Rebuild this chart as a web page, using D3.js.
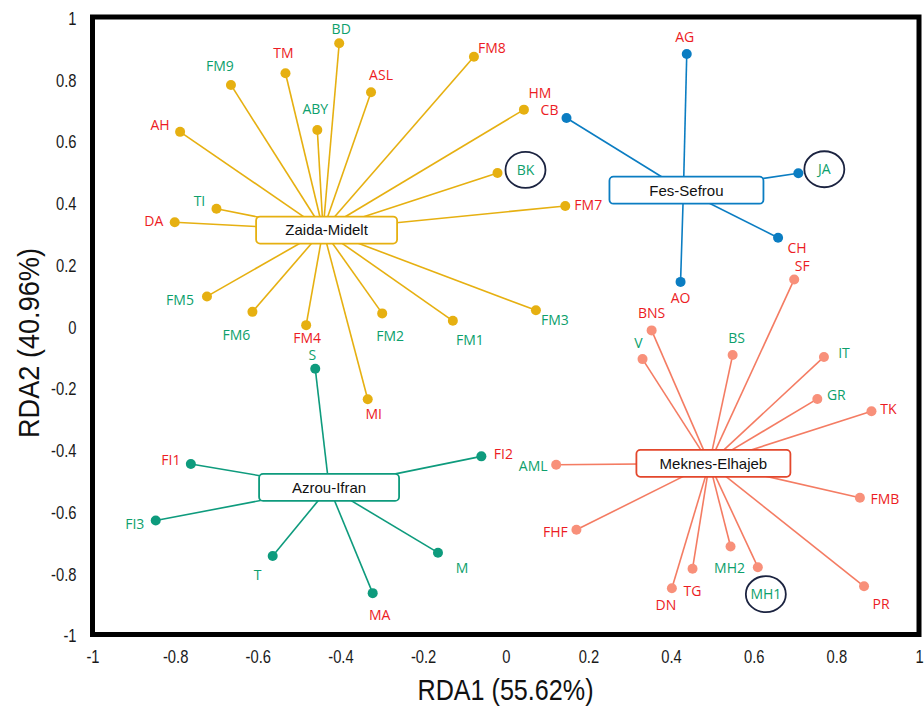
<!DOCTYPE html>
<html><head><meta charset="utf-8">
<script src="https://cdn.jsdelivr.net/npm/d3@7"></script>
<style>body{margin:0;background:#fff}</style>
</head><body><svg id="chart" width="924" height="707"></svg>
<script>
// ---------- data ----------
const groupNames = ["Zaida-Midelt", "Fes-Sefrou", "Azrou-Ifran", "Meknes-Elhajeb"];
const groupX = [-0.442, 0.430, -0.4275, 0.4928];
const groupY = [0.310, 0.439, -0.5235, -0.4457];

const siteNames = ["BD","FM8","ASL","HM","ABY","BK","FM7","FM3","FM9","TM","AH","TI","DA","FM5","FM6","FM4","FM2","FM1","MI",
  "AG","CB","JA","CH","AO",
  "S","FI1","FI3","T","FI2","M","MA",
  "AML","FHF","SF","BNS","V","BS","IT","GR","TK","FMB","PR","MH1","MH2","TG","DN"];
const siteGroup = [0,0,0,0,0,0,0,0,0,0,0,0,0,0,0,0,0,0,0,
  1,1,1,1,1,
  2,2,2,2,2,2,2,
  3,3,3,3,3,3,3,3,3,3,3,3,3,3,3];
const siteRDA1 = [-0.403,-0.077,-0.326,0.044,-0.456,-0.020,0.144,0.073,-0.665,-0.533,-0.788,-0.700,-0.801,-0.723,-0.613,-0.483,-0.299,-0.128,-0.334,
  0.438,0.147,0.708,0.659,0.423,
  -0.461,-0.762,-0.847,-0.564,-0.059,-0.164,-0.322,
  0.122,0.171,0.698,0.353,0.331,0.549,0.770,0.754,0.885,0.857,0.867,0.610,0.544,0.452,0.402];
const siteRDA2 = [0.915,0.871,0.756,0.700,0.634,0.495,0.388,0.050,0.780,0.818,0.628,0.379,0.335,0.095,0.045,0.002,0.040,0.016,-0.238,
  0.880,0.673,0.494,0.285,0.142,
  -0.139,-0.448,-0.631,-0.746,-0.423,-0.735,-0.866,
  -0.450,-0.661,0.150,-0.015,-0.108,-0.095,-0.101,-0.237,-0.277,-0.557,-0.844,-0.782,-0.715,-0.787,-0.850];
// label class: "R" (red label) or "G" (green label)
const siteClass = ["G","R","R","R","G","G","R","G","G","R","R","G","R","G","G","R","G","G","R",
  "R","R","G","R","R",
  "G","R","G","G","R","G","R",
  "G","R","R","R","G","G","G","G","R","R","R","G","G","R","R"];
const circledSites = ["BK","JA","MH1"];

const xTickValues = [-1,-0.8,-0.6,-0.4,-0.2,0,0.2,0.4,0.6,0.8,1];
const yTickValues = [-1,-0.8,-0.6,-0.4,-0.2,0,0.2,0.4,0.6,0.8,1];
const xTitle = "RDA1 (55.62%)";
const yTitle = "RDA2 (40.96%)";

// ---------- layout / style ----------
const frame = {x0: 92.5, x1: 919, y0: 17, y1: 634.5};
const lineColors = ["#e6b011", "#0b7dc2", "#0e9b7d", "#f47c63"];
const dotColors  = ["#e6b011", "#0b7dc2", "#0e9b7d", "#f8907a"];
const boxStroke  = ["#e6b011", "#0b7dc2", "#0e9b7d", "#e3472c"];
const boxWidth   = [141, 154, 140, 154];
const boxShift   = [3.5, 3, 0, 4];
const labelColor = {R: "#ec1c24", G: "#0d9f6c"};
const labelOffset = {
  BD:[2,-14], FM8:[18,-9], ASL:[10,-17], HM:[16,-17], ABY:[-2,-21], BK:[28,-3], FM7:[23,-1], FM3:[19,10],
  FM9:[-11,-19], TM:[-2,-20], AH:[-20,-7], TI:[-17,-8], DA:[-21,-1], FM5:[-27,4], FM6:[-16,23], FM4:[1,12.5],
  FM2:[8,23], FM1:[17,19], MI:[6,15],
  AG:[-2,-17], CB:[-17,-8], JA:[26,-4], CH:[19,10], AO:[0,16],
  S:[-3,-14], FI1:[-20,-4], FI3:[-21,3], T:[-15,19], FI2:[22,-2], M:[24,15], MA:[7,22],
  AML:[-23,1], FHF:[-21,2], SF:[8,-13], BNS:[0,-17], V:[-4,-16], BS:[4,-17], IT:[20,-4], GR:[19,-4],
  TK:[17,-2], FMB:[25,1], PR:[17,18], MH1:[8,27], MH2:[-1,21], TG:[0,22], DN:[-6,17]
};

const svg = d3.select("#chart");
const x = d3.scaleLinear().domain([-1, 1]).range([frame.x0, frame.x1]);
const y = d3.scaleLinear().domain([-1, 1]).range([frame.y1, frame.y0]);

const sites = siteNames.map((n, i) => ({name: n, g: siteGroup[i], x: siteRDA1[i], y: siteRDA2[i], c: siteClass[i]}));
const groups = groupNames.map((n, i) => ({name: n, i, x: groupX[i], y: groupY[i]}));

// axes
const fmt = d => String(+d.toFixed(1));
const gx = svg.append("g").attr("transform", `translate(0,${frame.y1})`)
  .call(d3.axisBottom(x).tickValues(xTickValues).tickSize(0).tickFormat(fmt));
gx.select(".domain").remove();
gx.selectAll("text").attr("y", 28.5).attr("dy", null)
  .attr("transform", "scale(0.82,1)")
  .style("font-family", "'Liberation Sans', Arial, sans-serif").style("font-size", "18px").attr("fill", "#1a1a1a");

const gy = svg.append("g").attr("transform", `translate(${frame.x0},0)`)
  .call(d3.axisLeft(y).tickValues(yTickValues).tickSize(0).tickFormat(fmt));
gy.select(".domain").remove();
gy.selectAll("text").attr("x", -19.5).attr("y", 1.5)
  .attr("transform", "scale(0.82,1)")
  .style("font-family", "'Liberation Sans', Arial, sans-serif").style("font-size", "18px").attr("fill", "#1a1a1a");

// titles
svg.append("text").attr("x", 505.5).attr("y", 700).attr("text-anchor", "middle")
  .attr("textLength", 176).attr("lengthAdjust", "spacingAndGlyphs")
  .style("font-family", "'Liberation Sans', Arial, sans-serif").style("font-size", "30px").attr("fill", "#111")
  .text(xTitle);
svg.append("text").attr("transform", "translate(38.5,343) rotate(-90)").attr("text-anchor", "middle")
  .attr("textLength", 190).attr("lengthAdjust", "spacingAndGlyphs")
  .style("font-family", "'Liberation Sans', Arial, sans-serif").style("font-size", "30px").attr("fill", "#111")
  .text(yTitle);

// spokes
svg.append("g").selectAll("line").data(sites).join("line")
  .attr("x1", d => x(groups[d.g].x)).attr("y1", d => y(groups[d.g].y))
  .attr("x2", d => x(d.x)).attr("y2", d => y(d.y))
  .attr("stroke", d => lineColors[d.g]).attr("stroke-width", 1.6);

// points
svg.append("g").selectAll("circle").data(sites).join("circle")
  .attr("cx", d => x(d.x)).attr("cy", d => y(d.y)).attr("r", 5)
  .attr("fill", d => dotColors[d.g]);

// group boxes
const gb = svg.append("g").selectAll("g").data(groups).join("g")
  .attr("transform", d => `translate(${x(d.x) + boxShift[d.i]},${y(d.y)})`);
gb.append("rect")
  .attr("x", d => -boxWidth[d.i] / 2).attr("y", -13.5)
  .attr("width", d => boxWidth[d.i]).attr("height", 27).attr("rx", 4)
  .attr("fill", "#fff").attr("stroke", d => boxStroke[d.i]).attr("stroke-width", 1.8);
gb.append("text").attr("text-anchor", "middle").attr("dy", "0.36em")
  .style("font-family", "'Liberation Sans', Arial, sans-serif").style("font-size", "15px").attr("fill", "#111")
  .text(d => d.name);

// site labels
const lab = svg.append("g").selectAll("g").data(sites).join("g")
  .attr("transform", d => `translate(${x(d.x) + labelOffset[d.name][0]},${y(d.y) + labelOffset[d.name][1]})`);
lab.filter(d => circledSites.includes(d.name)).append("ellipse")
  .attr("rx", 20).attr("ry", 18).attr("fill", "none").attr("stroke", "#1b2340").attr("stroke-width", 1.8);
lab.append("text").attr("text-anchor", "middle").attr("dy", "0.36em")
  .style("font-family", "'Open Sans', sans-serif").style("font-size", "14px")
  .attr("fill", d => labelColor[d.c]).text(d => d.name);

// frame
svg.append("rect").attr("x", frame.x0).attr("y", frame.y0)
  .attr("width", frame.x1 - frame.x0).attr("height", frame.y1 - frame.y0)
  .attr("fill", "none").attr("stroke", "#000").attr("stroke-width", 5);
</script>
</body></html>
